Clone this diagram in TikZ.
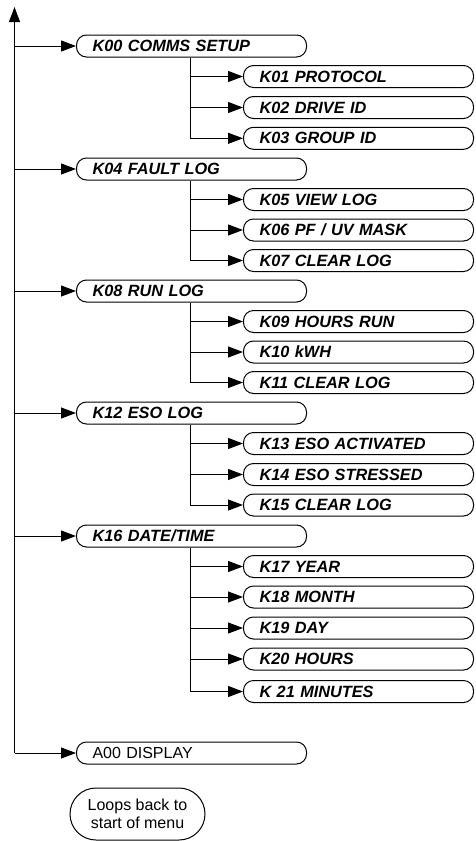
\documentclass[tikz,border=0pt]{standalone}
\usepackage{fontspec}
\setmainfont{Liberation Sans}
\usepackage{tikz}
\usetikzlibrary{arrows.meta}

\begin{document}
\begin{tikzpicture}[x=1pt,y=-1pt,
  line width=1pt,
  menubox/.style={draw, anchor=west, rounded corners=10pt, text width=198pt,
    align=left, inner xsep=16pt, inner ysep=0pt, minimum height=22pt,
    font=\fontsize{16.3}{17}\selectfont\bfseries\itshape},
  plainbox/.style={menubox, font=\fontsize{16}{17}\selectfont},
  arr/.style={-{Triangle[length=15pt,width=11pt]}}]
				\useasboundingbox (0,0) rectangle (475,841);
				
				% Spine
				\coordinate (top) at (14.5,7);
				\coordinate (bot) at (14.5,753);
				\coordinate (sub) at (190.5,0);
				
				% Comms setup
				\node[menubox] (k00) at (76,46) {K00 COMMS SETUP};
				\node[menubox] (k01) at (243,76.5) {K01 PROTOCOL};
				\node[menubox] (k02) at (243,107.5) {K02 DRIVE ID};
				\node[menubox] (k03) at (243,138.3) {K03 GROUP ID};
				
				% Fault log
				\node[menubox] (k04) at (76,169) {K04 FAULT LOG};
				\node[menubox] (k05) at (243,199.5) {K05 VIEW LOG};
				\node[menubox] (k06) at (243,230) {K06 PF / UV MASK};
				\node[menubox] (k07) at (243,260.5) {K07 CLEAR LOG};
				
				% Run log
				\node[menubox] (k08) at (76,291) {K08 RUN LOG};
				\node[menubox] (k09) at (243,321.5) {K09 HOURS RUN};
				\node[menubox] (k10) at (243,352) {K10 kWH};
				\node[menubox] (k11) at (243,382.5) {K11 CLEAR LOG};
				
				% ESO log
				\node[menubox] (k12) at (76,413) {K12 ESO LOG};
				\node[menubox] (k13) at (243,443.5) {K13 ESO ACTIVATED};
				\node[menubox] (k14) at (243,474.5) {K14 ESO STRESSED};
				\node[menubox] (k15) at (243,505) {K15 CLEAR LOG};
				
				% Date / time
				\node[menubox] (k16) at (76,536) {K16 DATE/TIME};
				\node[menubox] (k17) at (243,566.5) {K17 YEAR};
				\node[menubox] (k18) at (243,597) {K18 MONTH};
				\node[menubox] (k19) at (243,628) {K19 DAY};
				\node[menubox] (k20) at (243,659) {K20 HOURS};
				\node[menubox] (k21) at (243,691.5) {K 21 MINUTES};
				
				% Display
				\node[plainbox] (a00) at (76,753) {A00 DISPLAY};
				
				% Note
				\node[draw, rounded corners=26pt, minimum width=135pt, minimum height=52pt,
				  align=center, inner sep=0pt, font=\fontsize{16}{18}\selectfont]
				  (loop) at (137.5,814) {Loops back to\\start of menu};
				
				% Arrows
				\draw[arr] (bot) -- (top);
				\foreach \m in {k00,k04,k08,k12,k16,a00}
				  \draw[arr] (bot |- \m.west) -- (\m.west);
				
				\draw[arr] (k00.south -| sub) |- (k03.west);
				\draw[arr] (k04.south -| sub) |- (k07.west);
				\draw[arr] (k08.south -| sub) |- (k11.west);
				\draw[arr] (k12.south -| sub) |- (k15.west);
				\draw[arr] (k16.south -| sub) |- (k21.west);
				\foreach \s in {k01,k02,k05,k06,k09,k10,k13,k14,k17,k18,k19,k20}
				  \draw[arr] (sub |- \s.west) -- (\s.west);
			\end{tikzpicture}
\end{document}
